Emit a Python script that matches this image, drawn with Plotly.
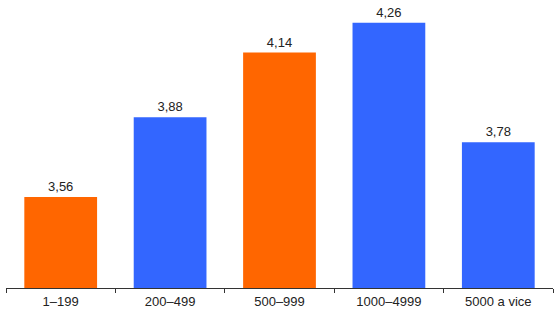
import plotly.graph_objects as go

categories = ["1–199", "200–499", "500–999", "1000–4999", "5000 a vice"]
values = [3.56, 3.88, 4.14, 4.26, 3.78]
colors = ["#FF6600", "#3366FF", "#FF6600", "#3366FF", "#3366FF"]

fig = go.Figure(go.Bar(
    x=categories, y=values,
    marker=dict(color=colors, line=dict(width=0)),
    texttemplate="%{y:.2f}", textposition="outside",
    textfont=dict(family="Liberation Sans, Arial", size=13, color="#222222"),
    cliponaxis=False,
))
fig.update_layout(
    width=560, height=310,
    margin=dict(l=6, r=7, t=10, b=22, autoexpand=False),
    plot_bgcolor="white", paper_bgcolor="white",
    separators=", ",
    bargap=0.335,
    showlegend=False,
    font=dict(family="Liberation Sans, Arial", size=13, color="#222222"),
)
fig.update_xaxes(
    showline=True, linecolor="#333333", linewidth=1,
    ticks="outside", tickson="boundaries", ticklen=4, tickcolor="#333333",
    showgrid=False, ticklabelstandoff=1, automargin=False,
    tickfont=dict(family="Liberation Sans, Arial", size=13, color="#222222"),
)
fig.update_yaxes(range=[3.195, 4.311], visible=False, showgrid=False, automargin=False)
fig.write_html("out.html")
